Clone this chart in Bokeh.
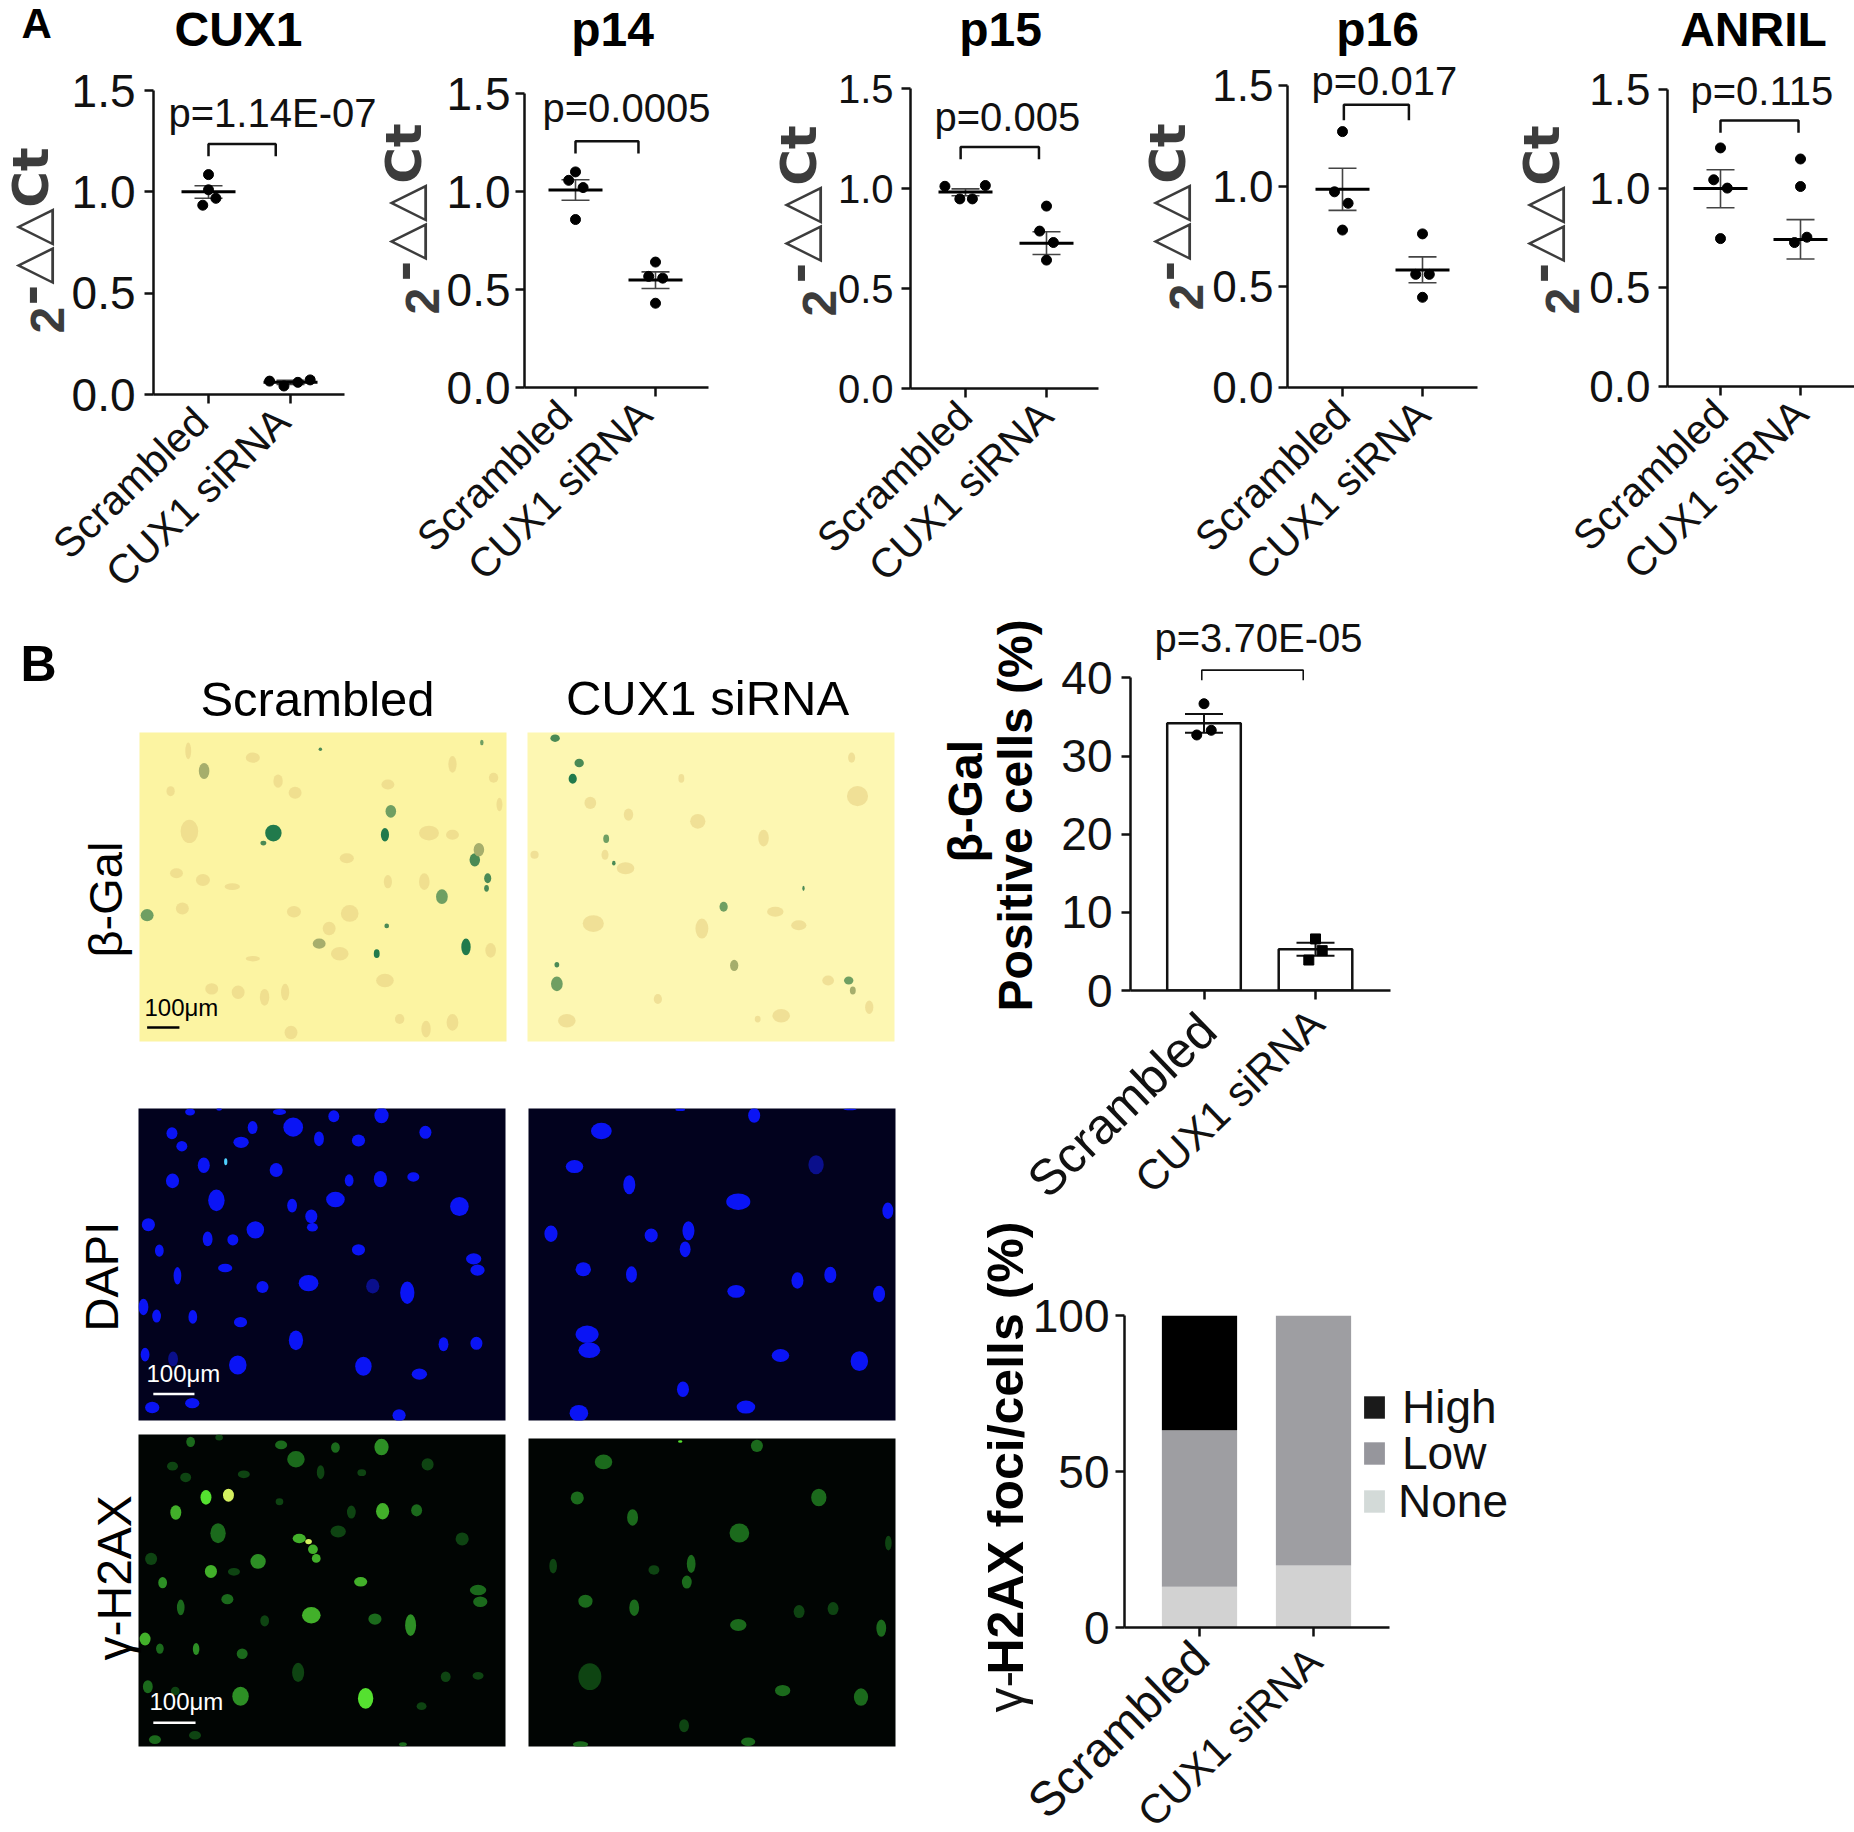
from math import cos, pi, sin

import numpy as np
from bokeh.embed import file_html
from bokeh.layouts import column, row
from bokeh.models import (ColumnDataSource, FixedTicker, Label, Legend, LegendItem,
                          NumeralTickFormatter, Range1d)
from bokeh.plotting import figure
from bokeh.resources import INLINE

categories = ["Scrambled", "CUX1 siRNA"]

# panel A, values
cux1_scr_x = [1.0, 1.0, 1.09, 0.93]
cux1_scr_y = [1.085, 1.01, 0.968, 0.934]
cux1_si_x = [1.745, 1.92, 2.09, 2.24]
cux1_si_y = [0.066, 0.042, 0.06, 0.072]
cux1_mean = [1.0, 0.06]
cux1_hi = [1.03, 0.07]
cux1_lo = [0.968, 0.05]
cux1_bracket = [1.0, 1.82, 1.236, 1.175]

p14_scr_x = [1.0, 0.915, 1.095, 1.0]
p14_scr_y = [1.10, 1.057, 1.02, 0.857]
p14_si_x = [2.0, 1.915, 2.09, 2.0]
p14_si_y = [0.64, 0.567, 0.558, 0.43]
p14_mean = [1.008, 0.548]
p14_hi = [1.06, 0.59]
p14_lo = [0.955, 0.505]
p14_bracket = [1.0, 1.787, 1.256, 1.194]

p15_scr_x = [0.746, 0.93, 1.085, 1.245]
p15_scr_y = [1.011, 0.948, 0.948, 1.015]
p15_si_x = [2.0, 1.915, 2.085, 2.0]
p15_si_y = [0.912, 0.787, 0.73, 0.642]
p15_mean = [0.983, 0.726]
p15_hi = [0.998, 0.784]
p15_lo = [0.964, 0.67]
p15_bracket = [0.94, 1.907, 1.207, 1.146]

p16_scr_x = [1.0, 0.9, 1.07, 1.0]
p16_scr_y = [1.271, 0.972, 0.915, 0.782]
p16_si_x = [2.0, 1.915, 2.085, 2.0]
p16_si_y = [0.763, 0.562, 0.562, 0.448]
p16_mean = [0.985, 0.584]
p16_hi = [1.089, 0.649]
p16_lo = [0.88, 0.52]
p16_bracket = [1.017, 1.83, 1.404, 1.328]

anril_scr_x = [1.0, 0.915, 1.085, 1.0]
anril_scr_y = [1.205, 1.044, 1.002, 0.747]
anril_si_x = [2.0, 2.0, 2.08, 1.925]
anril_si_y = [1.149, 1.01, 0.754, 0.727]
anril_mean = [1.0, 0.743]
anril_hi = [1.095, 0.843]
anril_lo = [0.903, 0.644]
anril_bracket = [1.0, 1.975, 1.344, 1.282]

# panel B charts
gal_means = [34.2, 5.27]
gal_scr_x = [1.0, 1.065, 0.935]
gal_scr_y = [36.7, 33.3, 32.7]
gal_si_x = [2.0, 2.06, 1.94]
gal_si_y = [6.6, 5.1, 3.9]
gal_hi = [35.4, 6.1]
gal_lo = [33.0, 4.45]
gal_bracket = [0.98, 1.89, 41.0, 39.7]

foci_none = [13.1, 19.9]
foci_low = [50.1, 80.1]
foci_high = [36.8, 0.0]
foci_names = ["None", "Low", "High"]

# micrographs: nuclei as (x, y, w, h, level), in field coordinates
dapi_scr = [(237, 50, 18, 16, 2), (400, 50, 24, 14, 2), (290, 44, 10, 6, 2), (499, 60, 20, 28, 2), (586, 58, 26, 36, 2),
            (351, 86, 18, 30, 2), (425, 85, 36, 44, 2), (204, 99, 20, 28, 2), (472, 112, 18, 34, 2), (330, 120, 28, 26, 2),
            (544, 116, 24, 28, 2), (666, 97, 22, 30, 2), (222, 129, 20, 24, 2), (262, 173, 22, 36, 2), (394, 184, 24, 32, 2),
            (205, 209, 24, 34, 2), (527, 208, 16, 28, 2), (584, 205, 24, 38, 2), (644, 200, 22, 22, 2), (285, 254, 30, 50, 2),
            (502, 252, 34, 36, 2), (423, 266, 18, 32, 2), (728, 268, 34, 44, 2), (458, 291, 22, 32, 2), (460, 316, 20, 20, 2),
            (161, 310, 24, 30, 2), (356, 322, 32, 40, 2), (269, 343, 18, 34, 2), (315, 345, 20, 26, 2), (181, 370, 16, 28, 2),
            (544, 368, 24, 26, 2), (754, 389, 28, 26, 2), (761, 415, 26, 26, 2), (301, 410, 26, 20, 2), (214, 428, 14, 40, 2),
            (453, 445, 36, 38, 2), (369, 454, 22, 28, 2), (570, 452, 24, 34, 1), (633, 467, 26, 52, 2), (152, 500, 18, 38, 2),
            (176, 521, 16, 30, 2), (242, 523, 16, 32, 2), (329, 535, 24, 24, 2), (430, 577, 26, 46, 2), (699, 586, 18, 32, 2),
            (759, 584, 22, 30, 2), (155, 610, 16, 32, 2), (206, 620, 18, 34, 1), (324, 634, 32, 44, 2), (553, 637, 30, 44, 2),
            (655, 655, 28, 26, 2), (168, 732, 26, 26, 2), (241, 722, 26, 24, 2), (618, 750, 24, 28, 2), (302, 165, 6, 16, 3)]
dapi_si = [(1265, 58, 22, 34, 2), (986, 94, 38, 38, 2), (1130, 45, 18, 6, 2), (1440, 44, 24, 4, 2), (937, 176, 32, 30, 2),
           (1378, 172, 28, 44, 1), (1037, 218, 22, 44, 2), (1236, 257, 44, 38, 2), (1509, 278, 20, 38, 2), (894, 331, 24, 38, 2),
           (1145, 324, 22, 44, 2), (1077, 335, 24, 32, 2), (1139, 367, 20, 36, 2), (953, 413, 28, 32, 2), (1041, 425, 20, 38, 2),
           (1344, 439, 22, 38, 2), (1404, 426, 22, 38, 2), (1232, 464, 32, 30, 2), (1493, 470, 22, 38, 2), (960, 563, 42, 40, 2),
           (964, 600, 40, 36, 2), (1313, 612, 32, 30, 2), (1457, 625, 32, 46, 2), (1135, 690, 22, 36, 2), (1250, 731, 34, 30, 2),
           (945, 745, 34, 38, 2)]
h2ax_scr = [(307, 933, 20, 30, 6), (266, 938, 20, 34, 5), (557, 1402, 28, 48, 5), (211, 973, 20, 34, 4), (588, 970, 24, 38, 4),
            (288, 1021, 28, 46, 2), (436, 1033, 24, 22, 4), (461, 1058, 18, 22, 4), (467, 1079, 16, 20, 4), (275, 1109, 22, 30, 4),
            (361, 1086, 28, 34, 3), (187, 1135, 16, 26, 3), (548, 1133, 24, 22, 4), (762, 1152, 30, 24, 2), (766, 1179, 26, 24, 2),
            (458, 1210, 34, 38, 4), (639, 1233, 20, 50, 3), (155, 1265, 20, 30, 4), (329, 1397, 30, 44, 3), (586, 822, 26, 38, 3),
            (430, 850, 32, 38, 2), (453, 1040, 12, 12, 6), (238, 810, 16, 24, 2), (290, 800, 14, 14, 1), (403, 817, 22, 20, 2),
            (502, 823, 16, 24, 2), (670, 862, 22, 28, 1), (205, 866, 20, 20, 1), (229, 892, 20, 22, 1), (475, 880, 14, 32, 1),
            (335, 885, 22, 18, 1), (550, 881, 16, 16, 1), (400, 948, 14, 16, 1), (531, 972, 16, 30, 1), (650, 968, 20, 28, 2),
            (507, 1017, 28, 28, 1), (733, 1034, 24, 30, 1), (166, 1080, 22, 28, 1), (317, 1110, 22, 18, 1), (305, 1173, 22, 24, 2),
            (220, 1192, 14, 36, 2), (373, 1223, 16, 26, 1), (574, 1219, 24, 26, 2), (182, 1287, 14, 24, 2), (248, 1288, 12, 28, 3),
            (332, 1299, 20, 24, 2), (434, 1342, 22, 44, 1), (703, 1352, 18, 24, 1), (762, 1350, 20, 18, 1), (160, 1375, 18, 30, 2),
            (210, 1385, 16, 20, 1), (659, 1420, 18, 18, 1), (173, 1497, 22, 20, 2), (246, 1487, 22, 20, 1), (625, 1508, 14, 10, 2)]
h2ax_si = [(1270, 820, 22, 28, 2), (990, 857, 32, 34, 2), (942, 940, 24, 30, 2), (1383, 939, 28, 40, 2), (1043, 985, 20, 38, 2),
           (1238, 1021, 36, 44, 2), (1510, 1044, 12, 34, 1), (898, 1097, 14, 34, 1), (1082, 1106, 20, 22, 1), (1150, 1092, 16, 42, 2),
           (1142, 1134, 18, 30, 2), (957, 1178, 26, 30, 2), (1046, 1193, 18, 38, 2), (1347, 1202, 20, 30, 1), (1409, 1195, 20, 30, 1),
           (1236, 1233, 30, 28, 2), (1497, 1240, 18, 40, 2), (965, 1352, 42, 62, 1), (1317, 1384, 28, 26, 2), (1460, 1399, 26, 40, 2),
           (1137, 1465, 18, 30, 1), (948, 1508, 28, 14, 2), (1254, 1502, 26, 20, 2), (1130, 810, 8, 6, 5)]
gal_stain_scr = [(465, 575, 28, 50, 4), (448, 605, 10, 14, 3), (655, 580, 14, 40, 4), (665, 510, 18, 38, 2), (347, 390, 18, 48, 1),
                 (808, 655, 18, 40, 3), (815, 625, 18, 40, 1), (830, 710, 12, 30, 3), (828, 740, 8, 20, 3), (752, 765, 20, 44, 2),
                 (250, 820, 22, 36, 2), (793, 915, 16, 50, 4), (641, 935, 10, 26, 4), (543, 905, 22, 30, 1), (545, 325, 6, 10, 3),
                 (820, 305, 6, 16, 2), (658, 852, 8, 14, 3)]
gal_stain_si = [(945, 292, 16, 22, 3), (986, 366, 16, 26, 3), (975, 413, 14, 30, 4), (1032, 592, 10, 26, 2), (1045, 665, 6, 14, 3),
                (1232, 795, 14, 30, 2), (1250, 970, 14, 34, 1), (948, 1025, 20, 44, 2), (1445, 1015, 16, 24, 2), (1452, 1045, 10, 24, 1),
                (1368, 740, 4, 16, 3), (948, 968, 8, 16, 3)]
gal_cells_scr = [(430, 350, 24, 30), (473, 420, 16, 40), (502, 455, 22, 36), (322, 570, 30, 70), (730, 575, 34, 44), (770, 580, 22, 30),
                 (590, 650, 24, 30), (345, 715, 24, 36), (395, 735, 26, 20), (300, 695, 22, 30), (660, 720, 14, 40), (722, 720, 18, 50),
                 (310, 800, 22, 36), (500, 810, 24, 34), (595, 815, 30, 50), (560, 860, 22, 40), (578, 935, 30, 40), (430, 950, 24, 16),
                 (655, 1015, 30, 40), (360, 1040, 22, 34), (405, 1050, 22, 40), (450, 1065, 16, 50), (485, 1050, 14, 50), (680, 1130, 16, 30),
                 (770, 1140, 20, 50), (725, 1160, 16, 50), (495, 1170, 22, 40), (835, 925, 18, 44), (320, 330, 10, 50), (770, 370, 14, 50),
                 (840, 410, 16, 30), (660, 430, 22, 30), (290, 450, 14, 30), (850, 490, 10, 40)]
gal_cells_si = [(1188, 540, 26, 44), (1005, 485, 20, 36), (1065, 680, 30, 36), (910, 640, 14, 24), (1160, 412, 10, 26), (1300, 590, 18, 50),
                (1460, 465, 36, 60), (1450, 350, 12, 30), (1070, 520, 16, 36), (1010, 845, 36, 50), (1195, 860, 22, 60), (1320, 810, 28, 30),
                (1360, 850, 26, 30), (965, 1135, 30, 40), (1330, 1120, 30, 40), (1290, 1130, 10, 20), (1410, 1015, 20, 30), (1120, 1070, 14, 30),
                (1480, 1095, 14, 40), (1030, 640, 12, 30)]

FONT = "Liberation Sans"
INK = "#111111"
TRI_GREY = "#3c3c3c"

DAPI_COLORS = {1: "#0a0f8c", 2: "#0a14f5", 3: "#4fd0ff"}
H2AX_COLORS = {1: "#0e4412", 2: "#1b6a1c", 3: "#2d8f25", 4: "#42b02a", 5: "#55e030", 6: "#d4f060"}
STAIN_COLORS = {1: "#a6ae6c", 2: "#6f9f62", 3: "#4a8a55", 4: "#217a4c"}
FOCI_COLORS = ["#d2d2d2", "#9e9ea2", "#000000"]
FOCI_KEY_COLORS = ["#d3dad8", "#96969c", "#1a1a1a"]

SPLIT_Y = 600
PAGE_W = 1854
PAGE_H = 1832
BASELINE_SHIFT = 0.4  # labels come out this many em under the asked baseline

# labels get clipped to the frame of the figure they sit in, so all loose text
# lives in one see-through figure on top of the panels, in page pixels
overlay = figure(width=PAGE_W, height=PAGE_H, output_backend="svg", toolbar_location=None,
                 x_range=Range1d(0, PAGE_W), y_range=Range1d(PAGE_H, 0),
                 x_axis_location=None, y_axis_location=None, min_border=0, frame_align=False,
                 background_fill_color=None, border_fill_color=None,
                 styles={"position": "absolute", "left": "0px", "top": "0px"})
overlay.grid.visible = False
overlay.outline_line_color = None


def put(s, x, y, size, angle=0, align="left", style="normal", color=INK, font=FONT):
    x = x - BASELINE_SHIFT * size * sin(angle)
    y = y - BASELINE_SHIFT * size * cos(angle)
    overlay.add_layout(Label(x=x, y=y, text=s, text_font=font, text_font_size=f"{size}px", text_font_style=style,
                             text_color=color, text_align=align, text_baseline="alphabetic", angle=angle))


def chart(x0, x1, y_top, y_bottom, axis_x, axis_end, y0, y_end_px, tick1, tick2, y_start, y_end, y_ticks,
          tick_size, label_sizes, y_standoff, label_dx, label_dy, label_angle=44):
    unit = tick2 - tick1
    p = figure(width=x1 - x0, height=y_bottom - y_top, output_backend="svg", toolbar_location=None,
               x_range=Range1d(1 - (tick1 - axis_x) / unit, 1 + (axis_end - tick1) / unit),
               y_range=Range1d(y_start, y_end), frame_align=False,
               min_border_left=axis_x - x0, min_border_right=x1 - axis_end,
               min_border_top=y_end_px - y_top, min_border_bottom=y_bottom - y0)
    p.grid.visible = False
    p.outline_line_color = None
    p.xaxis.ticker = FixedTicker(ticks=[1, 2])
    p.xaxis.major_label_overrides = {1: "", 2: ""}
    p.yaxis.ticker = FixedTicker(ticks=y_ticks)
    p.yaxis.major_label_standoff = y_standoff
    p.yaxis.major_label_text_font_size = f"{tick_size}px"
    p.yaxis.bounds = (y_start, y_ticks[-1])
    for ax in [p.xaxis[0], p.yaxis[0]]:
        ax.axis_line_width = 2.5
        ax.axis_line_color = INK
        ax.major_tick_line_width = 2.5
        ax.major_tick_line_color = INK
        ax.major_tick_in = 0
        ax.major_tick_out = 9
        ax.minor_tick_line_color = None
        ax.major_label_text_font = FONT
        ax.major_label_text_color = INK
    # slanted category names, bokeh's own rotated tick labels ask for too much border
    for i, tick in enumerate([tick1, tick2]):
        put(categories[i], tick + label_dx[i], y0 + label_dy[i], label_sizes[i], angle=label_angle * pi / 180, align="right")
    return p


def bracket(p, b, width=2.5):
    p.line([b[0], b[0], b[1], b[1]], [b[3], b[2], b[2], b[3]], line_color=INK, line_width=width)


def dot_panel(x0, x1, axis_x, axis_end, y0, y15, tick1, tick2, title, title_x, pval, pval_x, pval_y, tri_base, tri_start, two_base, two_start,
              scr_x, scr_y, si_x, si_y, mean, hi, lo, br, tick_size=46, y_standoff=9, label_dx=4):
    p = chart(x0, x1, 0, SPLIT_Y, axis_x, axis_end, y0, y15, tick1, tick2, 0, 1.5, [0, 0.5, 1.0, 1.5],
              tick_size, [41, 41], y_standoff, [label_dx, label_dx], [32, 32])
    p.yaxis.formatter = NumeralTickFormatter(format="0.0")
    unit = tick2 - tick1
    xs = [1, 2]
    mean_hw = 27 / unit
    cap_hw = 14 / unit
    p.segment(xs, lo, xs, hi, line_color="#444444", line_width=1.6)
    p.segment([v - cap_hw for v in xs], hi, [v + cap_hw for v in xs], hi, line_color="#444444", line_width=1.6)
    p.segment([v - cap_hw for v in xs], lo, [v + cap_hw for v in xs], lo, line_color="#444444", line_width=1.6)
    p.segment([v - mean_hw for v in xs], mean, [v + mean_hw for v in xs], mean, line_color="black", line_width=3)
    p.scatter(scr_x + si_x, scr_y + si_y, size=10, color="black")
    bracket(p, br)
    put(title, title_x, 48, 48, align="center", style="bold", color="black")
    put(pval, pval_x, pval_y, 40)
    put("2", two_base, two_start, 48, angle=pi / 2, style="bold", color=TRI_GREY)
    put("-△△Ct", tri_base, tri_start, 50, angle=pi / 2, style="bold", color=TRI_GREY, font="DejaVu Sans")
    return p


cux1 = dot_panel(0, 381, 153, 344, 394, 90, 208, 290, "CUX1", 238, "p=1.14E-07", 168, 128, 50, 305, 66, 333,
                 cux1_scr_x, cux1_scr_y, cux1_si_x, cux1_si_y, cux1_mean, cux1_hi, cux1_lo, cux1_bracket)
put("A", 21, 40, 42, style="bold", color="black")
p14 = dot_panel(381, 775, 524, 708, 387, 93, 575, 655, "p14", 612, "p=0.0005", 542, 123, 423, 281, 441, 314,
                p14_scr_x, p14_scr_y, p14_si_x, p14_si_y, p14_mean, p14_hi, p14_lo, p14_bracket, y_standoff=5, label_dx=1)
p15 = dot_panel(775, 1143, 910, 1098, 388, 88, 965, 1046, "p15", 1000, "p=0.005", 934, 132, 818, 283, 838, 316,
                p15_scr_x, p15_scr_y, p15_si_x, p15_si_y, p15_mean, p15_hi, p15_lo, p15_bracket, tick_size=40, y_standoff=8, label_dx=11)
p16 = dot_panel(1143, 1520, 1287, 1477, 387, 85, 1342, 1422, "p16", 1377, "p=0.017", 1311, 96, 1187, 281, 1205, 310,
                p16_scr_x, p16_scr_y, p16_si_x, p16_si_y, p16_mean, p16_hi, p16_lo, p16_bracket, tick_size=44, y_standoff=5, label_dx=12)
anril = dot_panel(1520, PAGE_W, 1667, PAGE_W, 386, 89, 1720, 1800, "ANRIL", 1753, "p=0.115", 1690, 106, 1561, 283, 1581, 314,
                  anril_scr_x, anril_scr_y, anril_si_x, anril_si_y, anril_mean, anril_hi, anril_lo, anril_bracket, tick_size=44, y_standoff=8, label_dx=12)
top_row = row(cux1, p14, p15, p16, anril, spacing=0)


def field(x0, x1, y_top, y_bottom, left, right, top, bottom, fx0, fx1, fy0, fy1, bg):
    p = figure(width=x1 - x0, height=y_bottom - y_top, output_backend="svg", toolbar_location=None,
               x_range=Range1d(fx0, fx1), y_range=Range1d(fy1, fy0), frame_align=False,
               x_axis_location=None, y_axis_location=None,
               min_border_left=left - x0, min_border_right=x1 - right,
               min_border_top=top - y_top, min_border_bottom=y_bottom - bottom,
               background_fill_color=bg)
    p.grid.visible = False
    p.outline_line_color = None
    return p


def nuclei(p, rows, colors):
    arr = np.array(rows)
    p.ellipse(arr[:, 0], arr[:, 1], width=arr[:, 2], height=arr[:, 3],
              fill_color=[colors[int(v)] for v in arr[:, 4]], line_color=None)


def cells(p, rows):
    arr = np.array(rows)
    p.ellipse(arr[:, 0], arr[:, 1], width=arr[:, 2], height=arr[:, 3],
              fill_color="#e6cd80", line_color=None, fill_alpha=0.55)


# beta-gal row
gal_l = field(0, 516, SPLIT_Y, 1090, 139, 506, 732, 1041, 237, 862, 275, 1197, "#fcf4a2")
cells(gal_l, gal_cells_scr)
nuclei(gal_l, gal_stain_scr, STAIN_COLORS)
gal_l.segment([250], [1155], [305], [1155], line_color="black", line_width=2.5)
put("B", 20, 683, 50, style="bold", color="black")
put(categories[0], 317, 718, 49, align="center", color="black")
put("β-Gal", 124, 957, 47, angle=pi / 2, color="black")
put("100μm", 144, 1017, 24, color="black")

gal_r = field(516, 900, SPLIT_Y, 1090, 527, 894, 732, 1041, 898, 1523, 275, 1197, "#fdf7b2")
cells(gal_r, gal_cells_si)
nuclei(gal_r, gal_stain_si, STAIN_COLORS)
put(categories[1], 707, 717, 49, align="center", color="black")

# DAPI row
dapi_l = field(0, 516, 1090, 1427, 138, 505, 1108, 1420, 143, 812, 42, 762, "#02021e")
nuclei(dapi_l, dapi_scr, DAPI_COLORS)
dapi_l.segment([170], [701], [245], [701], line_color="white", line_width=2.5)
put("DAPI", 120, 1331, 47, angle=pi / 2, color="black")
put("100μm", 146, 1383, 24, color="white")

dapi_r = field(516, 900, 1090, 1427, 528, 895, 1108, 1420, 853, 1523, 42, 762, "#02021e")
nuclei(dapi_r, dapi_si, DAPI_COLORS)

# gamma-H2AX row
h2ax_l = field(0, 516, 1427, PAGE_H, 138, 505, 1434, 1746, 143, 812, 793, 1513, "#010503")
nuclei(h2ax_l, h2ax_scr, H2AX_COLORS)
h2ax_l.segment([170], [1458], [247], [1458], line_color="white", line_width=2.5)
put("γ-H2AX", 133, 1660, 48, angle=pi / 2, color="black")
put("100μm", 149, 1711, 24, color="white")

h2ax_r = field(516, 900, 1427, PAGE_H, 528, 895, 1438, 1746, 853, 1523, 803, 1513, "#010503")
nuclei(h2ax_r, h2ax_si, H2AX_COLORS)

left_col = column(row(gal_l, gal_r, spacing=0), row(dapi_l, dapi_r, spacing=0), row(h2ax_l, h2ax_r, spacing=0), spacing=0)

# beta-gal percent chart
gal_y0 = 990
gal_scale = (990 - 678) / 40
gal = chart(900, PAGE_W, SPLIT_Y, 1205, 1130, 1390, gal_y0, int(gal_y0 - 43 * gal_scale), 1203.5, 1315, 0, 43, [0, 10, 20, 30, 40],
            46, [50, 42], 9, [18, 13], [46, 38])
gal.vbar([1, 2], width=0.66, top=gal_means, fill_color="white", line_color=INK, line_width=2.5)
gal_cap = 19 / 111.5
gal.segment([1, 2], gal_lo, [1, 2], gal_hi, line_color=INK, line_width=2)
gal.segment([1 - gal_cap, 2 - gal_cap], gal_hi, [1 + gal_cap, 2 + gal_cap], gal_hi, line_color=INK, line_width=2)
gal.segment([1 - gal_cap, 2 - gal_cap], gal_lo, [1 + gal_cap, 2 + gal_cap], gal_lo, line_color=INK, line_width=2)
gal.scatter(gal_scr_x, gal_scr_y, size=10, color="black")
gal.scatter(gal_si_x, gal_si_y, size=10, marker="square", color="black")
bracket(gal, gal_bracket, width=1.6)
put("p=3.70E-05", 1154, 653, 40)
put("β-Gal", 984, 862, 48, angle=pi / 2, style="bold", color="black")
put("Positive cells (%)", 1034, 1011, 48, angle=pi / 2, style="bold", color="black")

# gamma-H2AX stacked chart
foci = chart(900, PAGE_W, 1205, PAGE_H, 1124, 1389, 1627, 1315, 1199, 1313, 0, 100, [0, 50, 100], 46, [48, 41], 6, [15, 13], [36, 39])
foci_src = ColumnDataSource(dict(x=[1, 2], none=foci_none, low=foci_low, high=foci_high))
foci.vbar_stack(["none", "low", "high"], x="x", width=0.66, source=foci_src, color=FOCI_COLORS, line_color=None)
put("γ-", 1025, 1712, 50, angle=pi / 2)
put("H2AX foci/cells (%)", 1025, 1674, 50, angle=pi / 2, style="bold", color="black")

# the key goes on the overlay too; one legend per entry as their spacing is uneven
key_centres = [1501, 1453, 1407]
key_standoffs = [11, 15, 15]
for i, colr in enumerate(FOCI_KEY_COLORS):
    key = overlay.vbar(x=[0], top=[0], width=0, fill_color=colr, line_color=None)
    overlay.add_layout(Legend(items=[LegendItem(label=foci_names[i], renderers=[key])],
                              location=(1361, PAGE_H - key_centres[i] - 27), background_fill_alpha=0,
                              border_line_color=None, margin=0, padding=0,
                              glyph_width=26, glyph_height=28, label_standoff=key_standoffs[i],
                              label_text_font=FONT, label_text_font_size="46px", label_text_color=INK))

right_col = column(gal, foci, spacing=0)
page = column(column(top_row, row(left_col, right_col, spacing=0), spacing=0), overlay, spacing=0,
              styles={"position": "relative"})

open("out.html", "w").write(file_html(page, INLINE))
